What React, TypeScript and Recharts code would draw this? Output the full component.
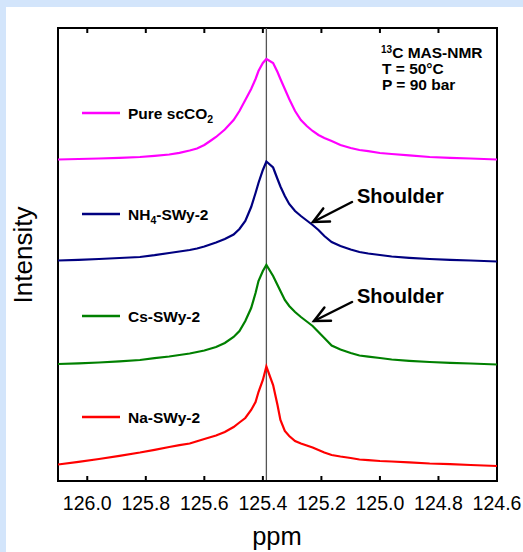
import React from 'react';
import { LineChart, Line, XAxis, YAxis, ReferenceLine, ReferenceArea } from 'recharts';

// chemical shift grid (ppm)
const ppm = [126.10, 126.03, 125.96, 125.89, 125.82, 125.77, 125.72, 125.685, 125.65, 125.625, 125.60, 125.58, 125.56, 125.53, 125.50, 125.48, 125.46, 125.44, 125.425, 125.415, 125.40, 125.388, 125.365, 125.35, 125.34, 125.325, 125.31, 125.29, 125.27, 125.25, 125.23, 125.21, 125.19, 125.165, 125.135, 125.10, 125.07, 125.04, 125.00, 124.96, 124.90, 124.83, 124.76, 124.69, 124.645, 124.60];

// stacked intensities (arbitrary units, offset per trace)
const pureScCO2 = [321.5, 322, 322.5, 323.2, 324, 325.2, 326.5, 328.2, 330.5, 332.5, 336, 340, 344, 351.5, 361, 370, 381, 392, 402, 410, 418, 422, 418, 409, 402, 392, 382, 370, 361, 355, 350, 346, 343, 340, 336, 333, 331, 329.8, 328, 327, 325.6, 324, 323.2, 322.5, 322, 321.5];
const nh4SWy2 = [220.5, 221.2, 222, 223, 224, 225.8, 228, 229.5, 231, 232.5, 234.5, 236.5, 238.5, 242, 246.5, 252, 260, 274, 288, 298, 311, 319.5, 313.5, 302, 294.5, 285, 277, 270, 265, 260.5, 256, 251, 245, 239, 235, 231.5, 229, 227.5, 226, 224.5, 223.2, 222, 221.2, 220.5, 220, 219.5];
const csSWy2 = [117, 117.7, 118.5, 119.7, 121, 122.8, 124.5, 126, 127.5, 129, 130.5, 132.3, 134, 138, 144, 150, 160, 173, 188, 200, 210, 216, 205, 196, 190, 181, 175, 169, 164, 159.5, 155, 149, 143, 135.5, 131.5, 128, 125.5, 124.4, 123, 121.5, 120.2, 119, 118.2, 117.5, 117, 116.5];
const naSWy2 = [16.5, 19.2, 22, 25.2, 28.5, 31.2, 34, 35.8, 37.5, 39.8, 42, 43.7, 45.5, 49, 54, 58.5, 63, 71, 79, 89, 101, 114.5, 96, 76, 61, 50, 45, 40, 37.5, 35.5, 33.5, 31, 28.5, 26, 24.5, 23, 21.5, 20.9, 20, 19.5, 18.7, 17.5, 16.8, 16, 15.5, 15];

const xTicks = [126.0, 125.8, 125.6, 125.4, 125.2, 125.0, 124.8, 124.6];
const xDomain = [124.6, 126.1];
const yDomain = [0, 453];
const peakRef = 125.388;
const TICK_LEN = 5;

const seriesDefs = [
  { key: 'pure', main: 'Pure scCO', sub: '2', suffix: '', color: '#ff00ff', values: pureScCO2 },
  { key: 'nh4', main: 'NH', sub: '4', suffix: '-SWy-2', color: '#000080', values: nh4SWy2 },
  { key: 'cs', main: 'Cs-SWy-2', sub: '', suffix: '', color: '#008000', values: csSWy2 },
  { key: 'na', main: 'Na-SWy-2', sub: '', suffix: '', color: '#ff0000', values: naSWy2 },
];

const data = ppm.map((x, i) => {
  const row: Record<string, number> = { ppm: x };
  seriesDefs.forEach((s) => { row[s.key] = s.values[i]; });
  return row;
});

const FONT = '"Liberation Sans", Arial, Helvetica, sans-serif';
const legendY = [113, 214, 316, 417];

function Arrow({ x1, y1, x2, y2 }: { x1: number; y1: number; x2: number; y2: number }) {
  const ang = Math.atan2(y1 - y2, x1 - x2);
  const L = 17;
  const a = 0.45;
  const p1 = [x2 + L * Math.cos(ang + a), y2 + L * Math.sin(ang + a)];
  const p2 = [x2 + L * Math.cos(ang - a), y2 + L * Math.sin(ang - a)];
  return (
    <g stroke="#000" strokeWidth={2.5} fill="none" strokeLinecap="round">
      <line x1={x1} y1={y1} x2={x2} y2={y2} />
      <polyline points={`${p1[0]},${p1[1]} ${x2},${y2} ${p2[0]},${p2[1]}`} />
    </g>
  );
}

export default function App() {
  return (
    <div style={{ position: 'absolute', left: 0, top: 0, width: 523, height: 552, background: '#d3e5fb', overflow: 'hidden' }}>
      <div style={{ position: 'absolute', left: 6, top: 7, width: 517, height: 545, background: '#ffffff' }} />
      <div style={{ position: 'absolute', left: 0, top: 0 }}>
        <LineChart width={523} height={552} data={data} margin={{ top: 28, right: 26, bottom: 0, left: 58 }}>
          <XAxis
            dataKey="ppm"
            type="number"
            domain={xDomain}
            reversed
            allowDataOverflow
            ticks={xTicks}
            interval={0}
            tickFormatter={(v: number) => v.toFixed(1)}
            height={71}
            tickSize={-TICK_LEN}
            tickMargin={20}
            axisLine={{ stroke: '#000', strokeWidth: 2 }}
            tickLine={{ stroke: '#000', strokeWidth: 2 }}
            tick={{ fill: '#000', fontSize: 19.5, fontFamily: FONT }}
          />
          <YAxis type="number" domain={yDomain} allowDataOverflow hide />
          <ReferenceArea
            x1={xDomain[0]} x2={xDomain[1]} y1={yDomain[0]} y2={yDomain[1]}
            ifOverflow="visible" fill="none" fillOpacity={0} stroke="#000" strokeWidth={2}
          />
          {xTicks.map((t) => (
            <ReferenceLine
              key={`top-${t}`}
              segment={[{ x: t, y: yDomain[1] }, { x: t, y: yDomain[1] - TICK_LEN }]}
              stroke="#000" strokeWidth={2} ifOverflow="visible"
            />
          ))}
          <ReferenceLine x={peakRef} stroke="#555" strokeWidth={1.3} />
          {seriesDefs.map((s) => (
            <Line key={s.key} dataKey={s.key} type="linear" stroke={s.color} strokeWidth={2.2} dot={false} isAnimationActive={false} />
          ))}
        </LineChart>
      </div>
      <svg width={523} height={552} style={{ position: 'absolute', left: 0, top: 0, pointerEvents: 'none' }} fontFamily={FONT}>
        {seriesDefs.map((s, i) => (
          <g key={s.key}>
            <line x1={82} x2={120} y1={legendY[i]} y2={legendY[i]} stroke={s.color} strokeWidth={2.5} />
            <text x={128} y={legendY[i] + 5.5} fontSize={15.5} fontWeight="bold" fill="#000">
              {s.main}
              {s.sub ? <tspan fontSize={10.5} dy={4}>{s.sub}</tspan> : null}
              {s.suffix ? <tspan dy={-4}>{s.suffix}</tspan> : null}
            </text>
          </g>
        ))}
        <text x={381} y={57.5} fontSize={15.5} fontWeight="bold" fill="#000">
          <tspan fontSize={10} dy={-5}>13</tspan>
          <tspan dy={5}>C MAS-NMR</tspan>
        </text>
        <text x={382} y={73.5} fontSize={15.5} fontWeight="bold" fill="#000">T = 50°C</text>
        <text x={382} y={89.5} fontSize={15.5} fontWeight="bold" fill="#000">P = 90 bar</text>

        <text x={357} y={203} fontSize={20} fontWeight="bold" fill="#000">Shoulder</text>
        <Arrow x1={352} y1={202} x2={313} y2={222} />
        <text x={357} y={303} fontSize={20} fontWeight="bold" fill="#000">Shoulder</text>
        <Arrow x1={352} y1={302} x2={314} y2={321} />

        <text x={277} y={545} fontSize={25.5} textAnchor="middle" fill="#000">ppm</text>
        <text x={32} y={255} fontSize={26} textAnchor="middle" fill="#000" transform="rotate(-90 32 255)">Intensity</text>
      </svg>
    </div>
  );
}
